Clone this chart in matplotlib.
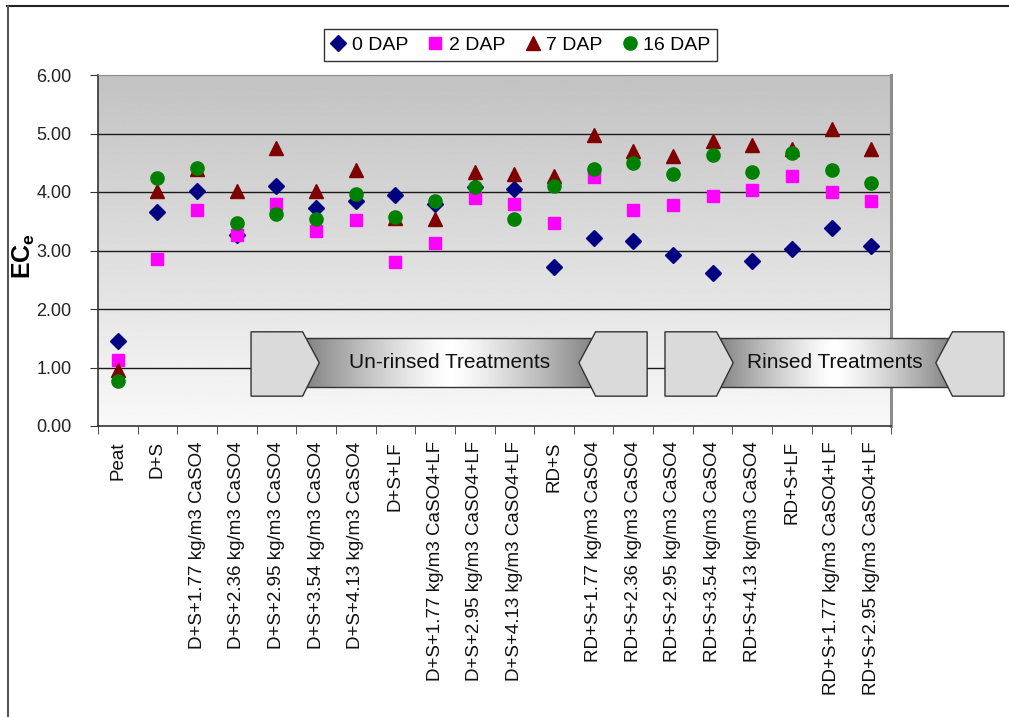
import matplotlib
matplotlib.use("Agg")
import matplotlib.pyplot as plt
import numpy as np
from matplotlib.patches import Polygon
from matplotlib.lines import Line2D

plt.rcParams["font.family"] = ["Liberation Sans", "DejaVu Sans"]

treatments = [
    "Peat", "D+S",
    "D+S+1.77 kg/m3 CaSO4", "D+S+2.36 kg/m3 CaSO4", "D+S+2.95 kg/m3 CaSO4",
    "D+S+3.54 kg/m3 CaSO4", "D+S+4.13 kg/m3 CaSO4", "D+S+LF",
    "D+S+1.77 kg/m3 CaSO4+LF", "D+S+2.95 kg/m3 CaSO4+LF", "D+S+4.13 kg/m3 CaSO4+LF",
    "RD+S",
    "RD+S+1.77 kg/m3 CaSO4", "RD+S+2.36 kg/m3 CaSO4", "RD+S+2.95 kg/m3 CaSO4",
    "RD+S+3.54 kg/m3 CaSO4", "RD+S+4.13 kg/m3 CaSO4", "RD+S+LF",
    "RD+S+1.77 kg/m3 CaSO4+LF", "RD+S+2.95 kg/m3 CaSO4+LF",
]
ec_0dap = [1.45, 3.66, 4.01, 3.27, 4.11, 3.73, 3.85, 3.95, 3.80, 4.08, 4.05,
           2.71, 3.22, 3.16, 2.93, 2.61, 2.82, 3.03, 3.39, 3.08]
ec_2dap = [1.13, 2.85, 3.69, 3.26, 3.80, 3.33, 3.52, 2.81, 3.12, 3.89, 3.80,
           3.47, 4.25, 3.70, 3.78, 3.94, 4.04, 4.27, 4.00, 3.85]
ec_7dap = [0.96, 4.02, 4.39, 4.02, 4.75, 4.01, 4.37, 3.56, 3.53, 4.35, 4.30,
           4.28, 4.98, 4.70, 4.61, 4.88, 4.80, 4.73, 5.08, 4.73]
ec_16dap = [0.77, 4.24, 4.41, 3.47, 3.62, 3.53, 3.97, 3.58, 3.84, 4.09, 3.54,
            4.11, 4.40, 4.49, 4.30, 4.64, 4.34, 4.66, 4.37, 4.15]

series = [
    ("0 DAP", ec_0dap, "D", "#000080", 8),
    ("2 DAP", ec_2dap, "s", "#ff00ff", 9),
    ("7 DAP", ec_7dap, "^", "#800000", 9.5),
    ("16 DAP", ec_16dap, "o", "#008000", 9.5),
]

W, H = 1009, 717
fig = plt.figure(figsize=(W / 100, H / 100), dpi=100)
fig.patch.set_facecolor("white")

# chart-area border (top and left edges only)
fig.add_artist(Line2D([7 / W, 1], [1 - 6 / H, 1 - 6 / H], color="#222222", lw=1.5))
fig.add_artist(Line2D([7.5 / W, 7.5 / W], [0, 1 - 6 / H], color="#555555", lw=1.5))

ax = fig.add_axes([98 / W, 1 - 426 / H, (891 - 98) / W, (426 - 75) / H])

# vertical grey gradient behind the plot
grad = np.linspace(0.76, 0.975, 256).reshape(-1, 1)
ax.imshow(grad, cmap="gray", vmin=0, vmax=1, extent=[0, 1, 0, 1],
          transform=ax.transAxes, aspect="auto", zorder=0, interpolation="bilinear")

x = np.arange(len(treatments))
for name, vals, mk, col, ms in series:
    ax.plot(x, vals, linestyle="none", marker=mk, color=col, markersize=ms,
            markeredgecolor=col, label=name, zorder=4)

ax.set_xlim(-0.5, len(treatments) - 0.5)
ax.set_ylim(0, 6)
ax.set_yticks(np.arange(0, 6.01, 1))
ax.set_yticklabels([f"{v:.2f}" for v in np.arange(0, 6.01, 1)], fontsize=13,
                   color="#222222")
for yv in range(1, 6):
    ax.axhline(yv, color="#1a1a1a", lw=1, zorder=1)

ax.set_xticks(np.arange(len(treatments) + 1) - 0.5, minor=True)
ax.set_xticks(x)
ax.set_xticklabels(treatments, rotation=90, fontsize=13.5, va="top", ha="center",
                   color="#111111")
ax.tick_params(axis="x", which="major", length=0, pad=11)
ax.tick_params(axis="x", which="minor", length=6, direction="out", color="#333333")
ax.tick_params(axis="y", length=6, direction="out", pad=13, color="#333333")

for s in ("left", "bottom"):
    ax.spines[s].set_color("#333333")
    ax.spines[s].set_linewidth(1.2)
ax.spines["top"].set_color("#8c8c8c")
ax.spines["right"].set_color("#8c8c8c")
ax.spines["right"].set_linewidth(2.2)

fig.text(24 / W, 1 - 256 / H, "EC$_\\mathregular{e}$", rotation=90, fontsize=18,
         fontweight="bold", ha="center", va="center")


def banner(x0, x1, label):
    """Grey scroll banner with end caps, spanning x0..x1 in category units."""
    cap = 1.3
    tip = 0.42
    yb0, yb1 = 0.67, 1.50
    yc0, yc1, ymid = 0.51, 1.61, 1.08
    bx0, bx1 = x0 + cap, x1 - cap
    t = np.linspace(-1, 1, 300)
    shade = (1 - np.abs(t) ** 1.3) * 0.5 + 0.5
    ax.imshow(shade.reshape(1, -1), cmap="gray", vmin=0, vmax=1,
              extent=[bx0, bx1, yb0, yb1], aspect="auto", zorder=5,
              clip_on=False, interpolation="bilinear")
    ax.plot([bx0, bx1], [yb0, yb0], color="#333333", lw=1, zorder=5.5, clip_on=False)
    ax.plot([bx0, bx1], [yb1, yb1], color="#333333", lw=1, zorder=5.5, clip_on=False)
    left = Polygon([(x0, yc0), (x0, yc1), (bx0, yc1), (bx0 + tip, ymid), (bx0, yc0)],
                   closed=True, facecolor="#dadada", edgecolor="#333333", lw=1,
                   zorder=6, clip_on=False)
    right = Polygon([(x1, yc0), (x1, yc1), (bx1, yc1), (bx1 - tip, ymid), (bx1, yc0)],
                    closed=True, facecolor="#dadada", edgecolor="#333333", lw=1,
                    zorder=6, clip_on=False)
    ax.add_patch(left)
    ax.add_patch(right)
    ax.text((x0 + x1) / 2, ymid, label, ha="center", va="center", fontsize=15,
            color="#111111", zorder=7, clip_on=False)


banner(3.36, 13.35, "Un-rinsed Treatments")
banner(13.80, 22.35, "Rinsed Treatments")
ax.set_xlim(-0.5, len(treatments) - 0.5)
ax.set_ylim(0, 6)

leg = ax.legend(loc="center", bbox_to_anchor=(520.5 / W, 1 - 45 / H),
                bbox_transform=fig.transFigure, ncol=4, frameon=True, fancybox=False,
                fontsize=14, handlelength=0.8, handletextpad=0.3, columnspacing=1.0,
                borderpad=0.35, borderaxespad=0)
leg.get_frame().set_edgecolor("black")
leg.get_frame().set_linewidth(1)

fig.savefig("out.png", dpi=100, facecolor="white")
